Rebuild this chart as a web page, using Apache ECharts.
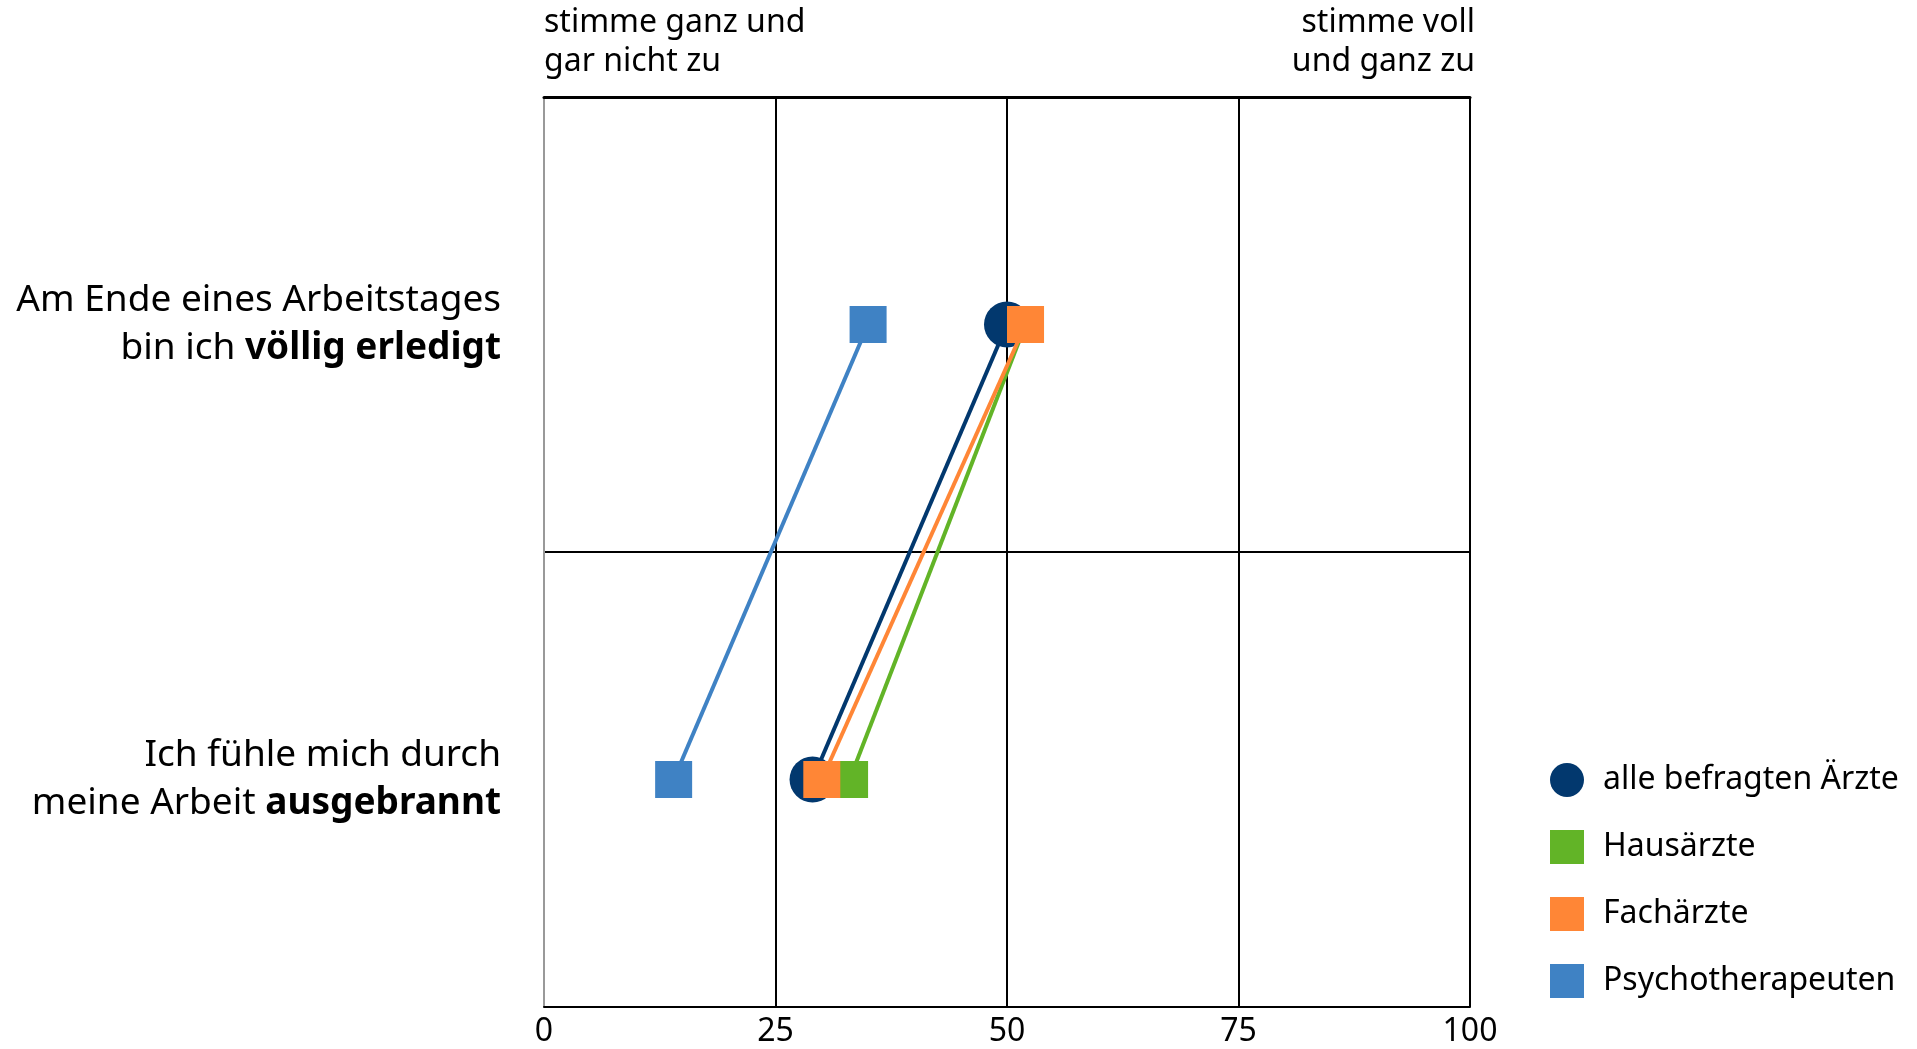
<!DOCTYPE html>
<html>
<head>
<meta charset="utf-8">
<script src="https://cdn.jsdelivr.net/npm/echarts@6/dist/echarts.min.js"></script>
<style>
  html, body { margin: 0; padding: 0; background: #fff; }
  #chart { width: 1917px; height: 1049px; }
</style>
</head>
<body>
<div id="chart"></div>
<script>
// statements (top to bottom)
var statements = ["erledigt", "ausgebrannt"];
var statementLabels = {
  erledigt: "{n|Am Ende eines Arbeitstages}\n{n|bin ich }{b|völlig erledigt}",
  ausgebrannt: "{n|Ich fühle mich durch}\n{n|meine Arbeit }{b|ausgebrannt}"
};
var xTicks = [0, 25, 50, 75, 100];

// agreement 0..100, per statement
var alleAerzte = [50, 29];
var hausaerzte = [52, 33];
var fachaerzte = [52, 30];
var psychotherapeuten = [35, 14];

var seriesNames = ["alle befragten Ärzte", "Hausärzte", "Fachärzte", "Psychotherapeuten"];
var seriesValues = [alleAerzte, hausaerzte, fachaerzte, psychotherapeuten];
var colors = ["#02386e", "#62b427", "#ff8636", "#3f82c4"];
var symbols = ["circle", "rect", "rect", "rect"];
var symbolSizes = [46, 37, 37, 37];

var font = "Noto Sans";

var chart = echarts.init(document.getElementById("chart"));

var series = seriesNames.map(function (name, i) {
  return {
    name: name,
    type: "line",
    data: seriesValues[i].map(function (v, j) { return [v, statements[j]]; }),
    symbol: symbols[i],
    symbolSize: symbolSizes[i],
    showAllSymbol: true,
    lineStyle: { color: colors[i], width: 4 },
    itemStyle: { color: colors[i], opacity: 1 },
    emphasis: { disabled: true },
    z: 3 + i
  };
});

var option = {
  animation: false,
  textStyle: { fontFamily: font, color: "#000" },
  grid: { left: 544, right: 447, top: 97, bottom: 42, containLabel: false },
  xAxis: [
    {
      type: "value",
      min: 0,
      max: 100,
      interval: 25,
      axisLine: { show: true, lineStyle: { color: "#000", width: 2 } },
      axisTick: { show: false },
      axisLabel: { fontSize: 32, color: "#000", margin: 9, fontFamily: font,
        formatter: function (v) { return xTicks.indexOf(v) >= 0 ? String(v) : ""; } },
      splitLine: { show: true, lineStyle: { color: ["#999", "#000", "#000", "#000", "#000"], width: 2 } }
    },
    {
      type: "value",
      position: "top",
      min: 0,
      max: 100,
      interval: 25,
      axisLine: { show: true, lineStyle: { color: "#000", width: 3 } },
      axisTick: { show: false },
      axisLabel: { show: false },
      splitLine: { show: false }
    }
  ],
  yAxis: {
    type: "category",
    data: statements,
    inverse: true,
    axisLine: { show: false },
    axisTick: { show: false },
    splitLine: { show: true, lineStyle: { color: "#000", width: 2 } },
    axisLabel: {
      margin: 43,
      align: "right",
      formatter: function (v) { return statementLabels[v]; },
      rich: {
        n: { fontSize: 37, fontFamily: font, color: "#000", lineHeight: 48, align: "right" },
        b: { fontSize: 37, fontFamily: font, color: "#000", fontWeight: "bold", lineHeight: 48, align: "right" }
      }
    }
  },
  legend: {
    orient: "vertical",
    left: 1545,
    top: 758,
    itemWidth: 34,
    itemHeight: 34,
    itemGap: 33,
    selectedMode: false,
    textStyle: { fontSize: 32, fontFamily: font, color: "#000", padding: [0, 0, 0, 14] },
    data: seriesNames.map(function (n, i) {
      return { name: n, icon: symbols[i], itemStyle: { color: colors[i] } };
    })
  },
  graphic: [
    {
      type: "text",
      x: 544,
      y: 3,
      style: { text: "stimme ganz und\ngar nicht zu", font: "32px " + font, fill: "#000", lineHeight: 39, align: "left", verticalAlign: "top" }
    },
    {
      type: "text",
      x: 1475,
      y: 3,
      style: { text: "stimme voll\nund ganz zu", font: "32px " + font, fill: "#000", lineHeight: 39, align: "right", verticalAlign: "top" }
    }
  ],
  series: series
};

chart.setOption(option);
</script>
</body>
</html>
